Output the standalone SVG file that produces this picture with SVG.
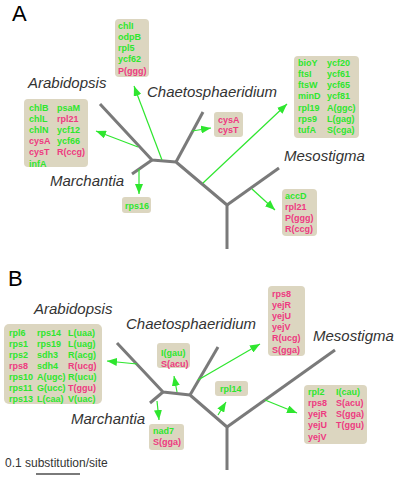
<svg xmlns="http://www.w3.org/2000/svg" width="400" height="477" viewBox="0 0 400 477">
<defs>
<marker id="ah" viewBox="0 0 10 8" refX="10" refY="4" markerWidth="10" markerHeight="8" markerUnits="userSpaceOnUse" orient="auto"><path d="M0,0 L10,4 L0,8 Z" fill="#2ee62e"/></marker>
<style>
.tree{stroke:#7a7a7a;stroke-width:3;fill:none;stroke-linecap:butt;stroke-linejoin:round}
.arr{stroke:#2ee62e;stroke-width:1.2;fill:none;marker-end:url(#ah)}
.box{fill:#dcd6c0}
.g{fill:#2ee62e}
.p{fill:#ee3a80}
.t{font-family:"Liberation Sans",Arial,sans-serif;font-size:9px;font-weight:bold}
.sp{font-family:"Liberation Sans",Arial,sans-serif;font-size:15px;font-style:italic;fill:#333}
.pl{font-family:"Liberation Sans",Arial,sans-serif;font-size:22px;fill:#000}
</style>
</defs>
<rect width="400" height="477" fill="#fff"/>
<text class="pl" x="12" y="21">A</text>
<text class="pl" x="8" y="286">B</text>

<g id="treeA">
<polyline class="tree" points="100,104 152,160 176,162 227,205 227,249"/>
<line class="tree" x1="152" y1="160" x2="132" y2="174"/>
<line class="tree" x1="176" y1="162" x2="203" y2="112"/>
<line class="tree" x1="227" y1="205" x2="279" y2="168"/>
</g>
<g id="treeB">
<polyline class="tree" points="117,343 163,392 190,395 227,427 227,470"/>
<line class="tree" x1="163" y1="392" x2="150" y2="403"/>
<line class="tree" x1="190" y1="395" x2="218" y2="347"/>
<line class="tree" x1="227" y1="427" x2="335" y2="350"/>
</g>

<g id="connectors">
<line class="arr" x1="162" y1="160" x2="134" y2="86"/>
<line class="arr" x1="138" y1="147" x2="96" y2="131"/>
<line class="arr" x1="139" y1="169" x2="139" y2="194"/>
<line class="arr" x1="192" y1="131" x2="211" y2="128"/>
<line class="arr" x1="203" y1="183" x2="287" y2="104"/>
<line class="arr" x1="252" y1="189" x2="275" y2="210"/>
<line class="arr" x1="137" y1="364" x2="107" y2="361"/>
<line class="arr" x1="177" y1="392" x2="174" y2="376"/>
<line class="arr" x1="157" y1="401" x2="159" y2="420"/>
<line class="arr" x1="198" y1="380" x2="260" y2="344"/>
<line class="arr" x1="218" y1="415" x2="226" y2="402"/>
<line class="arr" x1="265" y1="400" x2="297" y2="413"/>
</g>

<g id="labels">
<text class="sp" x="28" y="88">Arabidopsis</text>
<text class="sp" x="147" y="97">Chaetosphaeridium</text>
<text class="sp" x="50" y="186">Marchantia</text>
<text class="sp" x="284" y="161">Mesostigma</text>
<text class="sp" x="34" y="314">Arabidopsis</text>
<text class="sp" x="126" y="329">Chaetosphaeridium</text>
<text class="sp" x="71" y="424">Marchantia</text>
<text class="sp" x="313" y="341">Mesostigma</text>
</g>

<g id="boxA1">
<rect class="box" x="115" y="19" width="34" height="58" rx="4"/>
<text class="t" x="118"><tspan class="g" x="118" y="28.5">chlI</tspan><tspan class="g" x="118" y="39.8">odpB</tspan><tspan class="g" x="118" y="51.1">rpl5</tspan><tspan class="g" x="118" y="62.4">ycf62</tspan><tspan class="p" x="118" y="73.7">P(ggg)</tspan></text>
</g>
<g id="boxA2">
<rect class="box" x="24" y="99" width="64" height="68" rx="4"/>
<text class="t"><tspan class="g" x="29" y="110.5">chlB</tspan><tspan class="g" x="29" y="121.7">chlL</tspan><tspan class="g" x="29" y="132.9">chlN</tspan><tspan class="p" x="29" y="144.1">cysA</tspan><tspan class="p" x="29" y="155.3">cysT</tspan><tspan class="g" x="29" y="166.5">infA</tspan></text>
<text class="t"><tspan class="g" x="57" y="110.5">psaM</tspan><tspan class="p" x="57" y="121.7">rpl21</tspan><tspan class="g" x="57" y="132.9">ycf12</tspan><tspan class="g" x="57" y="144.1">ycf66</tspan><tspan class="p" x="57" y="155.3">R(ccg)</tspan></text>
</g>
<g id="boxA3">
<rect class="box" x="122" y="197" width="29" height="16" rx="3"/>
<text class="t g" x="125" y="208.5">rps16</text>
</g>
<g id="boxA4">
<rect class="box" x="214" y="112" width="29" height="25" rx="3"/>
<text class="t p"><tspan x="218" y="122.5">cysA</tspan><tspan x="218" y="133.2">cysT</tspan></text>
</g>
<g id="boxA5">
<rect class="box" x="294" y="56" width="65" height="82" rx="4"/>
<text class="t g"><tspan x="298" y="65.5">bioY</tspan><tspan x="298" y="76.8">ftsI</tspan><tspan x="298" y="88.1">ftsW</tspan><tspan x="298" y="99.4">minD</tspan><tspan x="298" y="110.7">rpl19</tspan><tspan x="298" y="122">rps9</tspan><tspan x="298" y="133.3">tufA</tspan></text>
<text class="t g"><tspan x="327" y="65.5">ycf20</tspan><tspan x="327" y="76.8">ycf61</tspan><tspan x="327" y="88.1">ycf65</tspan><tspan x="327" y="99.4">ycf81</tspan><tspan x="327" y="110.7">A(ggc)</tspan><tspan x="327" y="122">L(gag)</tspan><tspan x="327" y="133.3">S(cga)</tspan></text>
</g>
<g id="boxA6">
<rect class="box" x="282" y="189" width="35" height="47" rx="4"/>
<text class="t"><tspan class="g" x="285" y="198.5">accD</tspan><tspan class="p" x="285" y="209.8">rpl21</tspan><tspan class="p" x="285" y="221.1">P(ggg)</tspan><tspan class="p" x="285" y="232.4">R(ccg)</tspan></text>
</g>

<g id="boxB1">
<rect class="box" x="4" y="324" width="98" height="80" rx="5"/>
<text class="t"><tspan class="g" x="9" y="335.5">rpl6</tspan><tspan class="g" x="9" y="346.6">rps1</tspan><tspan class="g" x="9" y="357.7">rps2</tspan><tspan class="p" x="9" y="368.8">rps8</tspan><tspan class="g" x="9" y="379.9">rps10</tspan><tspan class="g" x="9" y="391">rps11</tspan><tspan class="g" x="9" y="402.1">rps13</tspan></text>
<text class="t g"><tspan x="37" y="335.5">rps14</tspan><tspan x="37" y="346.6">rps19</tspan><tspan x="37" y="357.7">sdh3</tspan><tspan x="37" y="368.8">sdh4</tspan><tspan x="37" y="379.9">A(ugc)</tspan><tspan x="37" y="391">G(ucc)</tspan><tspan x="37" y="402.1">L(caa)</tspan></text>
<text class="t"><tspan class="g" x="68" y="335.5">L(uaa)</tspan><tspan class="g" x="68" y="346.6">L(uag)</tspan><tspan class="g" x="68" y="357.7">R(acg)</tspan><tspan class="p" x="68" y="368.8">R(ucg)</tspan><tspan class="g" x="68" y="379.9">R(ucu)</tspan><tspan class="p" x="68" y="391">T(ggu)</tspan><tspan class="g" x="68" y="402.1">V(uac)</tspan></text>
</g>
<g id="boxB2">
<rect class="box" x="157" y="343" width="33" height="25" rx="3"/>
<text class="t"><tspan class="g" x="161" y="355.5">I(gau)</tspan><tspan class="p" x="161" y="366.5">S(acu)</tspan></text>
</g>
<g id="boxB3">
<rect class="box" x="149" y="424" width="35" height="26" rx="3"/>
<text class="t"><tspan class="g" x="153" y="433.5">nad7</tspan><tspan class="p" x="153" y="444.5">S(gga)</tspan></text>
</g>
<g id="boxB4">
<rect class="box" x="268" y="286" width="37" height="70" rx="4"/>
<text class="t p"><tspan x="272" y="296.5">rps8</tspan><tspan x="272" y="307.7">yejR</tspan><tspan x="272" y="318.9">yejU</tspan><tspan x="272" y="330.1">yejV</tspan><tspan x="272" y="341.3">R(ucg)</tspan><tspan x="272" y="352.5">S(gga)</tspan></text>
</g>
<g id="boxB5">
<rect class="box" x="215" y="381" width="33" height="15" rx="3"/>
<text class="t g" x="220" y="392">rpl14</text>
</g>
<g id="boxB6">
<rect class="box" x="304" y="385" width="63" height="59" rx="4"/>
<text class="t"><tspan class="g" x="308" y="394.5">rpl2</tspan><tspan class="p" x="308" y="405.8">rps8</tspan><tspan class="p" x="308" y="417.1">yejR</tspan><tspan class="p" x="308" y="428.4">yejU</tspan><tspan class="p" x="308" y="439.7">yejV</tspan></text>
<text class="t"><tspan class="g" x="336" y="394.5">I(cau)</tspan><tspan class="p" x="336" y="405.8">S(acu)</tspan><tspan class="p" x="336" y="417.1">S(gga)</tspan><tspan class="p" x="336" y="428.4">T(ggu)</tspan></text>
</g>

<g id="scale">
<text x="5" y="467" font-family="Liberation Sans, Arial, sans-serif" font-size="12" fill="#333">0.1 substitution/site</text>
<line x1="36" y1="474" x2="80" y2="474" stroke="#7a7a7a" stroke-width="2"/>
</g>
</svg>
